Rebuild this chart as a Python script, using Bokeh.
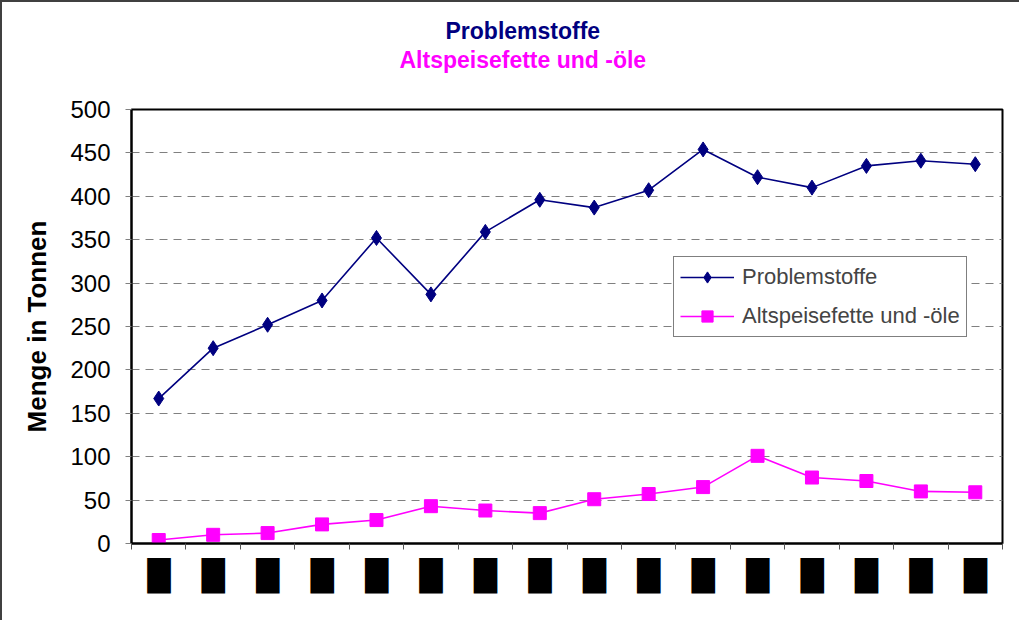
from bokeh.plotting import figure
from bokeh.models import Range1d, FixedTicker, Title, Legend, LegendItem
from bokeh.embed import file_html
from bokeh.resources import INLINE

categories = ["1990", "1991", "1992", "1993", "1994", "1995", "1996", "1997",
              "1998", "1999", "2000", "2001", "2002", "2003", "2004", "2005"]
problemstoffe = [167, 225, 252, 280, 352, 287, 359, 396, 387, 407, 454, 422, 410, 435, 441, 437]
altspeise = [4, 10, 12, 22, 27, 43, 38, 35, 51, 57, 65, 101, 76, 72, 60, 59]
y_ticks = [0, 50, 100, 150, 200, 250, 300, 350, 400, 450, 500]

n = len(categories)
xs = [i + 0.5 for i in range(n)]

FONT = "Liberation Sans"
NAVY = "#000080"
MAG = "#FF00FF"

p = figure(width=1019, height=620, output_backend="svg", toolbar_location=None,
           x_range=Range1d(0, n), y_range=Range1d(0, 500),
           min_border_left=129, min_border_right=19, min_border_bottom=79, min_border_top=107)
p.title = None
p.styles = {"border-left": "2px solid #404040", "border-top": "2px solid #404040",
            "box-sizing": "border-box"}

spacer = Title(text=" ", text_font_size="10px", standoff=24)
t2 = Title(text="Altspeisefette und -öle", align="left", offset=268, text_color=MAG,
           text_font=FONT, text_font_size="23px", text_font_style="bold", standoff=0)
t1 = Title(text="Problemstoffe", align="left", offset=314, text_color=NAVY,
           text_font=FONT, text_font_size="23px", text_font_style="bold", standoff=2)
p.add_layout(spacer, "above")
p.add_layout(t2, "above")
p.add_layout(t1, "above")

p.outline_line_color = "black"
p.outline_line_width = 2

p.xgrid.visible = False
p.ygrid.ticker = FixedTicker(ticks=y_ticks[1:-1])
p.ygrid.grid_line_color = "#808080"
p.ygrid.grid_line_dash = "8 6"
p.ygrid.grid_line_width = 1

yax = p.yaxis[0]
yax.ticker = FixedTicker(ticks=y_ticks)
yax.axis_line_color = "black"
yax.axis_line_width = 2
yax.major_tick_in = 0
yax.major_tick_out = 6
yax.major_tick_line_color = "#808080"
yax.minor_tick_line_color = None
yax.major_label_text_font = FONT
yax.major_label_text_font_size = "24px"
yax.major_label_text_color = "black"
yax.major_label_standoff = 15
yax.axis_label = "Menge in Tonnen"
yax.axis_label_text_font = FONT
yax.axis_label_text_font_size = "26px"
yax.axis_label_text_font_style = "bold"
yax.axis_label_text_color = "black"
yax.axis_label_standoff = 15

xax = p.xaxis[0]
xax.ticker = FixedTicker(ticks=xs, minor_ticks=list(range(n + 1)))
xax.major_label_overrides = {x: "\u2588" for x in xs}
xax.axis_line_color = "black"
xax.axis_line_width = 2
xax.major_tick_in = 0
xax.major_tick_out = 0
xax.minor_tick_in = 0
xax.minor_tick_out = 6
xax.minor_tick_line_color = "#555555"
xax.major_label_text_font = "DejaVu Sans"
xax.major_label_text_font_size = "30px"
xax.major_label_text_color = "black"
xax.major_label_standoff = 8

r1 = p.line(xs, problemstoffe, line_color=NAVY, line_width=1.6)
m1 = p.scatter(xs, problemstoffe, marker="diamond", size=15,
               fill_color=NAVY, line_color=NAVY)
r2 = p.line(xs, altspeise, line_color=MAG, line_width=1.6)
m2 = p.scatter(xs, altspeise, marker="square", size=13, fill_color=MAG, line_color=MAG)

legend = Legend(items=[LegendItem(label="Problemstoffe", renderers=[r1, m1]),
                       LegendItem(label="Altspeisefette und -öle", renderers=[r2, m2])],
                location=(542, 206), orientation="vertical",
                label_text_font=FONT, label_text_font_size="22px",
                glyph_width=54, glyph_height=28, label_height=28, spacing=11,
                padding=6, margin=0, label_standoff=8,
                border_line_color="black", border_line_width=1,
                background_fill_color="white", background_fill_alpha=1)
p.add_layout(legend, "center")

open("out.html", "w").write(file_html(p, INLINE))
